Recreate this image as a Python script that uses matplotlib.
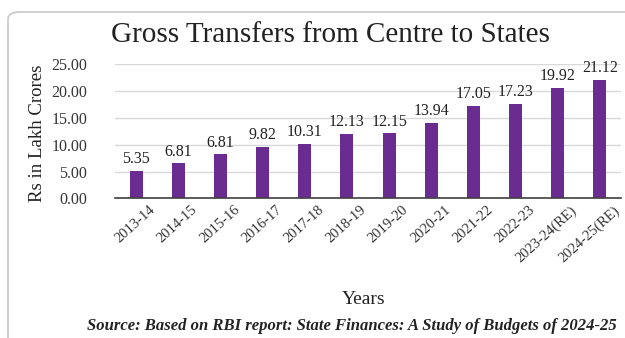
import matplotlib
matplotlib.use("Agg")
import matplotlib.pyplot as plt
from matplotlib.patches import FancyBboxPatch
from matplotlib.transforms import ScaledTranslation

# data
years = ["2013-14", "2014-15", "2015-16", "2016-17", "2017-18", "2018-19",
         "2019-20", "2020-21", "2021-22", "2022-23", "2023-24(RE)", "2024-25(RE)"]
bar_heights = [5.1, 6.5, 8.2, 9.6, 10.1, 12.0, 12.1, 14.1, 17.3, 17.6, 20.6, 22.1]
bar_labels = ["5.35", "6.81", "6.81", "9.82", "10.31", "12.13", "12.15",
              "13.94", "17.05", "17.23", "19.92", "21.12"]
y_ticks = [0, 5, 10, 15, 20, 25]

plt.rcParams['font.family'] = ['Liberation Serif', 'DejaVu Serif']

fig = plt.figure(figsize=(6.25, 3.38), dpi=100)
ax = fig.add_axes([115 / 625, 1 - 198.3 / 338, 506 / 625, 134 / 338])

# light rounded border around the chart
border = FancyBboxPatch((8 / 625, -0.05), 1.2, 1 - 12 / 338 + 0.05,
                        boxstyle="round,pad=0,rounding_size=0.02",
                        transform=fig.transFigure, fill=False,
                        edgecolor='#c8c8c8', linewidth=1.2, zorder=0)
fig.patches.append(border)

x = list(range(len(years)))
bars = ax.bar(x, bar_heights, width=0.31, color='#6a2c91', zorder=3)
for rect, lab in zip(bars, bar_labels):
    ax.text(rect.get_x() + rect.get_width() / 2, rect.get_height() + 0.7, lab,
            ha='center', va='bottom', fontsize=11.5, color='#222222')

ax.set_xlim(-0.5, len(years) - 0.5)
ax.set_ylim(0, 25)
ax.set_yticks(y_ticks)
ax.set_yticklabels([f"{v:.2f}" for v in y_ticks], fontsize=11.5, color='#333333')

# rotated category labels, nudged right like the original
ax.set_xticks(x)
ax.set_xticklabels([])
shift = ax.get_xaxis_transform() + ScaledTranslation(0.13, -0.05, fig.dpi_scale_trans)
for xi, yr in zip(x, years):
    ax.text(xi, 0, yr, transform=shift, rotation=42, ha='right', va='top',
            rotation_mode='anchor', fontsize=10.5, color='#333333', clip_on=False)

ax.tick_params(axis='x', length=0)
ax.tick_params(axis='y', length=0, pad=20)
ax.grid(axis='y', color='#d9d9d9', linewidth=1, zorder=0)
for side in ['top', 'right', 'left']:
    ax.spines[side].set_visible(False)
ax.spines['bottom'].set_color('#404040')
ax.spines['bottom'].set_linewidth(1.2)
ax.spines['bottom'].set_zorder(4)

fig.text(330 / 625, 1 - 35 / 338, "Gross Transfers from Centre to States",
         ha='center', va='center', fontsize=21, color='#222222')
fig.text(38 / 625, 1 - 133 / 338, "Rs in Lakh Crores", rotation=90,
         ha='center', va='center', fontsize=13.5, color='#222222')
fig.text(364 / 625, 1 - 299 / 338, "Years", ha='center', va='center',
         fontsize=14, color='#222222')
fig.text(352 / 625, 1 - 326 / 338,
         "Source: Based on RBI report: State Finances: A Study of Budgets of 2024-25",
         ha='center', va='center', fontsize=12, style='italic',
         weight='bold', color='#222222')

fig.savefig("out.png", dpi=100)
